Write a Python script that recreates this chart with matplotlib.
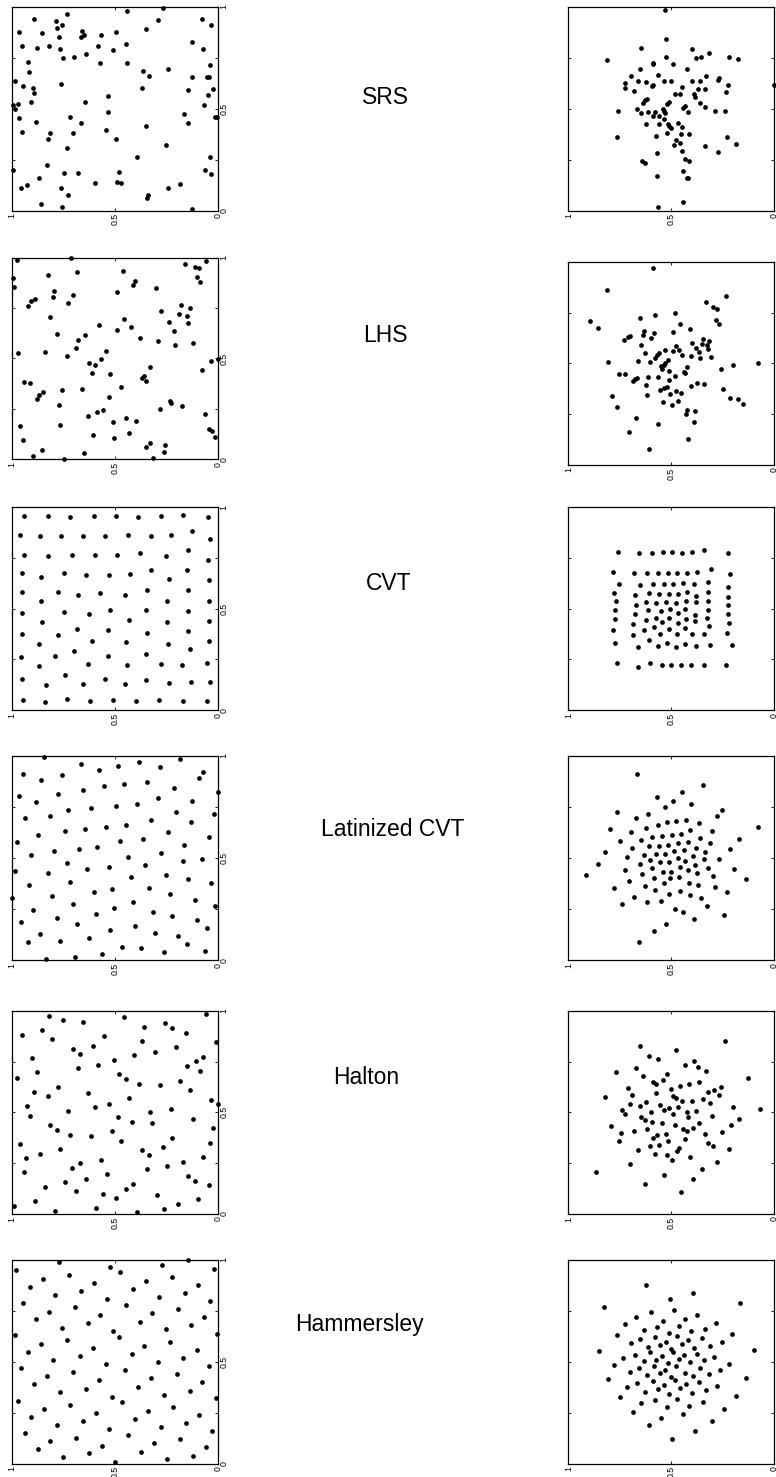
import matplotlib
matplotlib.use("Agg")
import matplotlib.pyplot as plt

plt.rcParams['font.family'] = ['Liberation Sans', 'DejaVu Sans']

# ---------------- data (axes in [0,1]) ----------------
labels = ["SRS", "LHS", "CVT", "Latinized CVT", "Halton", "Hammersley"]

srs_uniform = [(0.27,0.993),(0.73,0.962),(0.44,0.979),(0.89,0.941),(0.787,0.931),(0.29,0.935),(0.081,0.94),(0.755,0.908),(0.779,0.894),(0.034,0.91),(0.352,0.891),(0.966,0.877),(0.855,0.873),(0.661,0.882),(0.497,0.874),(0.568,0.863),(0.652,0.861),(0.666,0.85),(0.769,0.853),(0.127,0.825),(0.448,0.819),(0.952,0.809),(0.821,0.806),(0.581,0.809),(0.877,0.797),(0.766,0.792),(0.51,0.786),(0.076,0.794),(0.639,0.766),(0.753,0.75),(0.698,0.755),(0.921,0.727),(0.573,0.722),(0.442,0.724),(0.042,0.716),(0.242,0.693),(0.365,0.686),(0.918,0.681),(0.335,0.658),(0.129,0.654),(0.055,0.654),(0.047,0.655),(0.982,0.637),(0.947,0.609),(0.76,0.619),(0.895,0.601),(0.371,0.6),(0.027,0.595),(0.145,0.59),(0.892,0.577),(0.05,0.569),(0.535,0.564),(0.905,0.531),(0.644,0.534),(0.971,0.521),(0.992,0.516),(0.982,0.5),(0.069,0.518),(0.535,0.482),(0.165,0.472),(0.965,0.456),(0.716,0.458),(0.015,0.458),(0.008,0.461),(0.882,0.436),(0.147,0.431),(0.666,0.43),(0.352,0.417),(0.544,0.394),(0.95,0.387),(0.813,0.382),(0.702,0.381),(0.823,0.35),(0.495,0.351),(0.253,0.32),(0.731,0.309),(0.395,0.263),(0.04,0.265),(0.827,0.224),(0.994,0.198),(0.066,0.198),(0.747,0.183),(0.677,0.186),(0.479,0.19),(0.034,0.18),(0.869,0.162),(0.597,0.137),(0.49,0.139),(0.473,0.136),(0.184,0.131),(0.926,0.124),(0.953,0.113),(0.763,0.113),(0.244,0.109),(0.727,0.075),(0.34,0.078),(0.344,0.06),(0.86,0.031),(0.755,0.02),(0.127,0.007)]

srs_normal = [(0.528,0.987),(0.525,0.846),(0.647,0.802),(0.400,0.797),(0.318,0.777),(0.523,0.756),(0.381,0.749),(0.355,0.756),(0.217,0.754),(0.177,0.746),(0.810,0.739),(0.590,0.728),(0.590,0.722),(0.489,0.720),(0.652,0.697),(0.421,0.697),(0.694,0.661),(0.564,0.666),(0.331,0.661),(0.267,0.651),(0.272,0.643),(0.660,0.636),(0.622,0.631),(0.533,0.639),(0.502,0.639),(0.397,0.636),(0.361,0.636),(0.723,0.626),(0.723,0.605),(0.587,0.616),(0.595,0.611),(0.447,0.607),(0.224,0.620),(0.000,0.620),(0.679,0.590),(0.368,0.600),(0.334,0.597),(0.232,0.584),(0.481,0.572),(0.455,0.572),(0.389,0.572),(0.384,0.561),(0.616,0.551),(0.626,0.544),(0.635,0.531),(0.509,0.533),(0.522,0.525),(0.361,0.530),(0.434,0.515),(0.444,0.507),(0.334,0.511),(0.668,0.498),(0.541,0.498),(0.759,0.492),(0.648,0.482),(0.613,0.487),(0.579,0.485),(0.533,0.489),(0.528,0.482),(0.418,0.484),(0.285,0.489),(0.238,0.490),(0.590,0.464),(0.561,0.466),(0.533,0.451),(0.622,0.425),(0.559,0.426),(0.517,0.428),(0.465,0.433),(0.509,0.416),(0.501,0.408),(0.447,0.410),(0.765,0.364),(0.575,0.367),(0.520,0.380),(0.451,0.375),(0.412,0.375),(0.229,0.364),(0.478,0.346),(0.455,0.334),(0.485,0.321),(0.334,0.320),(0.183,0.326),(0.449,0.295),(0.569,0.282),(0.274,0.287),(0.431,0.256),(0.412,0.246),(0.640,0.243),(0.629,0.236),(0.441,0.195),(0.571,0.170),(0.425,0.159),(0.418,0.162),(0.441,0.043),(0.566,0.018)]

lhs_uniform = [(0.713,1.0),(0.973,0.988),(0.058,0.982),(0.161,0.969),(0.113,0.955),(0.092,0.947),(0.463,0.934),(0.685,0.927),(0.823,0.912),(0.994,0.899),(0.102,0.902),(0.087,0.879),(0.402,0.884),(0.411,0.864),(0.987,0.853),(0.300,0.850),(0.795,0.836),(0.490,0.830),(0.703,0.815),(0.802,0.803),(0.885,0.795),(0.906,0.783),(0.919,0.759),(0.726,0.775),(0.179,0.765),(0.135,0.749),(0.276,0.736),(0.192,0.721),(0.152,0.712),(0.816,0.707),(0.456,0.694),(0.240,0.683),(0.148,0.674),(0.577,0.664),(0.421,0.658),(0.489,0.643),(0.213,0.635),(0.782,0.620),(0.645,0.617),(0.677,0.593),(0.381,0.600),(0.290,0.587),(0.124,0.577),(0.208,0.565),(0.690,0.554),(0.840,0.534),(0.545,0.539),(0.969,0.527),(0.734,0.512),(0.568,0.498),(0.003,0.499),(0.035,0.486),(0.627,0.476),(0.597,0.468),(0.332,0.456),(0.610,0.428),(0.523,0.421),(0.077,0.441),(0.361,0.413),(0.369,0.402),(0.352,0.388),(0.939,0.382),(0.913,0.379),(0.469,0.360),(0.756,0.342),(0.658,0.349),(0.848,0.334),(0.868,0.321),(0.879,0.299),(0.531,0.309),(0.234,0.289),(0.231,0.279),(0.771,0.268),(0.284,0.250),(0.558,0.243),(0.589,0.233),(0.174,0.264),(0.066,0.223),(0.629,0.213),(0.511,0.187),(0.448,0.205),(0.397,0.190),(0.960,0.164),(0.766,0.170),(0.044,0.150),(0.029,0.142),(0.608,0.119),(0.505,0.104),(0.432,0.129),(0.018,0.112),(0.945,0.096),(0.852,0.048),(0.650,0.031),(0.348,0.061),(0.329,0.079),(0.260,0.073),(0.263,0.036),(0.316,0.007),(0.897,0.015),(0.745,0.0)]

lhs_normal = [(0.588,0.969),(0.810,0.861),(0.235,0.833),(0.332,0.802),(0.295,0.779),(0.277,0.766),(0.481,0.746),(0.577,0.736),(0.652,0.723),(0.893,0.710),(0.284,0.715),(0.269,0.693),(0.857,0.674),(0.457,0.695),(0.407,0.669),(0.634,0.661),(0.493,0.656),(0.583,0.648),(0.637,0.639),(0.702,0.634),(0.596,0.623),(0.712,0.628),(0.729,0.613),(0.344,0.618),(0.314,0.608),(0.400,0.602),(0.350,0.593),(0.647,0.589),(0.324,0.589),(0.379,0.577),(0.321,0.572),(0.478,0.584),(0.462,0.564),(0.528,0.567),(0.493,0.559),(0.365,0.556),(0.627,0.551),(0.446,0.541),(0.561,0.549),(0.571,0.541),(0.579,0.528),(0.405,0.536),(0.361,0.526),(0.305,0.531),(0.661,0.513),(0.601,0.505),(0.514,0.516),(0.806,0.508),(0.198,0.493),(0.078,0.500),(0.528,0.500),(0.536,0.490),(0.549,0.487),(0.425,0.480),(0.259,0.474),(0.543,0.470),(0.509,0.464),(0.439,0.459),(0.432,0.452),(0.752,0.449),(0.724,0.448),(0.483,0.439),(0.665,0.426),(0.674,0.421),(0.687,0.413),(0.613,0.431),(0.564,0.434),(0.509,0.416),(0.373,0.405),(0.340,0.397),(0.402,0.387),(0.620,0.395),(0.522,0.382),(0.533,0.378),(0.553,0.369),(0.475,0.364),(0.451,0.354),(0.246,0.375),(0.505,0.351),(0.619,0.343),(0.786,0.338),(0.212,0.330),(0.173,0.323),(0.149,0.302),(0.541,0.308),(0.467,0.315),(0.498,0.293),(0.763,0.284),(0.421,0.272),(0.386,0.264),(0.429,0.249),(0.669,0.230),(0.391,0.210),(0.562,0.200),(0.705,0.161),(0.417,0.126),(0.606,0.077)]

cvt_uniform = [(0.940,0.954),(0.826,0.954),(0.716,0.951),(0.603,0.954),(0.494,0.954),(0.387,0.952),(0.279,0.954),(0.171,0.959),(0.050,0.951),
    (0.958,0.861),(0.865,0.856),(0.763,0.856),(0.653,0.857),(0.547,0.857),(0.439,0.861),(0.327,0.856),(0.227,0.862),(0.126,0.880),(0.042,0.844),
    (0.940,0.766),(0.824,0.757),(0.706,0.764),(0.595,0.762),(0.489,0.762),(0.379,0.772),(0.253,0.761),(0.148,0.787),(0.048,0.741),
    (0.952,0.677),(0.856,0.654),(0.747,0.674),(0.640,0.667),(0.531,0.666),(0.427,0.670),(0.326,0.690),(0.239,0.646),(0.150,0.692),(0.047,0.639),
    (0.950,0.580),(0.858,0.536),(0.774,0.582),(0.677,0.567),(0.573,0.577),(0.452,0.566),(0.345,0.593),(0.247,0.539),(0.148,0.590),(0.047,0.538),
    (0.952,0.480),(0.855,0.434),(0.748,0.482),(0.624,0.472),(0.523,0.492),(0.434,0.444),(0.348,0.492),(0.248,0.434),(0.148,0.490),(0.047,0.441),
    (0.952,0.375),(0.869,0.326),(0.777,0.370),(0.684,0.398),(0.610,0.339),(0.534,0.393),(0.445,0.334),(0.344,0.382),(0.245,0.325),(0.148,0.392),(0.137,0.302),(0.044,0.341),
    (0.956,0.264),(0.866,0.216),(0.789,0.266),(0.700,0.292),(0.629,0.226),(0.532,0.269),(0.442,0.223),(0.352,0.277),(0.277,0.226),(0.177,0.221),(0.053,0.234),
    (0.950,0.154),(0.835,0.126),(0.744,0.175),(0.655,0.130),(0.550,0.156),(0.453,0.128),(0.352,0.151),(0.237,0.133),(0.132,0.139),(0.039,0.141),
    (0.945,0.052),(0.840,0.041),(0.732,0.054),(0.619,0.046),(0.511,0.049),(0.397,0.046),(0.289,0.049),(0.173,0.046),(0.056,0.046)]

cvt_normal = [(0.757,0.779),(0.655,0.774),(0.592,0.775),(0.541,0.777),(0.494,0.777),(0.447,0.775),(0.399,0.777),(0.339,0.787),(0.225,0.775),
    (0.784,0.680),(0.679,0.675),(0.616,0.675),(0.564,0.677),(0.517,0.677),(0.470,0.677),(0.421,0.675),(0.373,0.680),(0.305,0.695),(0.212,0.669),
    (0.754,0.623),(0.653,0.616),(0.587,0.621),(0.536,0.620),(0.489,0.623),(0.444,0.625),(0.387,0.621),(0.321,0.633),(0.222,0.607),
    (0.776,0.577),(0.676,0.567),(0.608,0.575),(0.558,0.574),(0.511,0.574),(0.465,0.574),(0.423,0.582),(0.379,0.562),(0.321,0.584),(0.222,0.559),
    (0.770,0.536),(0.673,0.518),(0.622,0.534),(0.572,0.530),(0.527,0.534),(0.476,0.528),(0.429,0.539),(0.381,0.534),(0.321,0.538),(0.222,0.518),
    (0.773,0.492),(0.674,0.474),(0.611,0.492),(0.549,0.489),(0.506,0.497),(0.468,0.479),(0.433,0.498),(0.382,0.470),(0.323,0.493),(0.222,0.475),
    (0.775,0.448),(0.684,0.426),(0.624,0.444),(0.575,0.456),(0.545,0.433),(0.509,0.454),(0.468,0.430),(0.428,0.449),(0.382,0.439),(0.324,0.452),(0.316,0.413),(0.217,0.431),
    (0.781,0.397),(0.684,0.369),(0.630,0.395),(0.583,0.408),(0.553,0.375),(0.511,0.398),(0.472,0.374),(0.433,0.403),(0.397,0.374),(0.342,0.374),(0.229,0.380),
    (0.771,0.330),(0.660,0.311),(0.606,0.346),(0.562,0.315),(0.519,0.331),(0.476,0.313),(0.433,0.328),(0.379,0.315),(0.310,0.320),(0.206,0.323),
    (0.765,0.231),(0.663,0.215),(0.601,0.233),(0.546,0.221),(0.501,0.223),(0.452,0.223),(0.404,0.225),(0.340,0.221),(0.235,0.221)]

lcvt_uniform = [(0.845,0.995),(0.666,0.963),(0.485,0.953),(0.384,0.972),(0.282,0.946),(0.184,0.984),(0.945,0.914),(0.756,0.905),(0.576,0.933),(0.073,0.923),(0.092,0.894),(0.856,0.884),(0.553,0.855),(0.455,0.863),(0.345,0.874),(0.216,0.843),(0.966,0.804),(0.774,0.816),(0.653,0.834),(0.292,0.793),(0.003,0.824),(0.884,0.773),(0.495,0.754),(0.395,0.765),(0.126,0.781),(0.616,0.746),(0.726,0.734),(0.203,0.724),(0.023,0.716),(0.935,0.695),(0.815,0.705),(0.324,0.685),(0.445,0.664),(0.545,0.654),(0.645,0.643),(0.744,0.635),(0.134,0.675),(0.245,0.626),(0.874,0.613),(0.044,0.605),(0.974,0.577),(0.365,0.595),(0.474,0.584),(0.165,0.564),(0.585,0.555),(0.676,0.545),(0.795,0.535),(0.276,0.524),(0.905,0.515),(0.435,0.506),(0.081,0.496),(0.173,0.486),(0.531,0.455),(0.734,0.475),(0.355,0.465),(0.634,0.445),(0.985,0.436),(0.824,0.426),(0.253,0.418),(0.424,0.406),(0.716,0.385),(0.145,0.398),(0.035,0.377),(0.918,0.367),(0.334,0.356),(0.515,0.347),(0.603,0.334),(0.232,0.325),(0.806,0.316),(0.997,0.307),(0.415,0.287),(0.705,0.277),(0.115,0.295),(0.015,0.268),(0.503,0.258),(0.895,0.245),(0.315,0.237),(0.594,0.227),(0.782,0.207),(0.224,0.217),(0.955,0.186),(0.103,0.197),(0.682,0.176),(0.403,0.168),(0.053,0.157),(0.526,0.147),(0.305,0.135),(0.865,0.127),(0.194,0.119),(0.923,0.088),(0.765,0.096),(0.626,0.108),(0.153,0.080),(0.465,0.067),(0.374,0.059),(0.063,0.047),(0.565,0.029),(0.265,0.039),(0.694,0.018),(0.832,0.008)]

lcvt_normal = [(0.666,0.914),(0.347,0.856),(0.447,0.822),(0.567,0.798),(0.489,0.780),(0.528,0.749),(0.402,0.763),(0.762,0.728),(0.254,0.737),(0.277,0.708),(0.611,0.718),(0.673,0.698),(0.076,0.654),(0.796,0.641),(0.697,0.626),(0.621,0.648),(0.564,0.661),(0.519,0.675),(0.478,0.682),(0.429,0.688),(0.365,0.670),(0.303,0.631),(0.749,0.586),(0.647,0.589),(0.595,0.604),(0.545,0.608),(0.494,0.613),(0.451,0.620),(0.407,0.636),(0.358,0.597),(0.311,0.576),(0.170,0.594),(0.820,0.532),(0.689,0.548),(0.608,0.558),(0.559,0.561),(0.515,0.566),(0.468,0.576),(0.420,0.581),(0.381,0.551),(0.334,0.529),(0.212,0.545),(0.715,0.506),(0.634,0.516),(0.574,0.519),(0.528,0.522),(0.486,0.535),(0.439,0.540),(0.395,0.509),(0.342,0.494),(0.266,0.498),(0.854,0.471),(0.653,0.470),(0.603,0.493),(0.553,0.480),(0.509,0.483),(0.467,0.502),(0.433,0.486),(0.386,0.465),(0.319,0.454),(0.194,0.449),(0.914,0.416),(0.724,0.444),(0.640,0.421),(0.592,0.452),(0.541,0.431),(0.501,0.434),(0.457,0.457),(0.420,0.440),(0.376,0.427),(0.297,0.411),(0.136,0.398),(0.705,0.387),(0.585,0.401),(0.536,0.377),(0.504,0.401),(0.462,0.406),(0.415,0.380),(0.368,0.369),(0.778,0.354),(0.629,0.365),(0.577,0.346),(0.511,0.326),(0.455,0.339),(0.410,0.318),(0.355,0.303),(0.287,0.359),(0.229,0.333),(0.681,0.312),(0.737,0.274),(0.616,0.284),(0.548,0.292),(0.481,0.250),(0.441,0.235),(0.391,0.202),(0.324,0.264),(0.245,0.222),(0.525,0.179),(0.582,0.145),(0.658,0.088)]

halton_uniform = [(0.819,0.975),(0.753,0.952),(0.653,0.944),(0.456,0.967),(0.060,0.984),(0.952,0.882),(0.852,0.905),(0.358,0.921),(0.260,0.938),(0.226,0.913),(0.158,0.892),(0.803,0.859),(0.555,0.874),(0.371,0.852),(0.608,0.828),(0.703,0.811),(0.206,0.820),(0.306,0.797),(0.669,0.789),(0.010,0.844),(0.903,0.766),(0.408,0.780),(0.076,0.772),(0.506,0.757),(0.110,0.751),(0.581,0.734),(0.150,0.726),(0.677,0.718),(0.876,0.697),(0.479,0.689),(0.448,0.664),(0.087,0.703),(0.976,0.670),(0.184,0.656),(0.382,0.641),(0.281,0.633),(0.776,0.625),(0.893,0.600),(0.135,0.610),(0.629,0.593),(0.825,0.579),(0.431,0.569),(0.034,0.562),(0.529,0.539),(0.924,0.531),(0.002,0.539),(0.595,0.525),(0.231,0.515),(0.331,0.500),(0.727,0.507),(0.913,0.484),(0.484,0.477),(0.123,0.469),(0.416,0.454),(0.815,0.439),(0.319,0.446),(0.781,0.415),(0.516,0.407),(0.024,0.421),(0.716,0.390),(0.618,0.384),(0.223,0.375),(0.961,0.344),(0.469,0.359),(0.040,0.351),(0.765,0.320),(0.369,0.313),(0.269,0.328),(0.863,0.297),(0.335,0.289),(0.929,0.274),(0.569,0.266),(0.073,0.280),(0.668,0.251),(0.173,0.257),(0.706,0.226),(0.344,0.220),(0.247,0.234),(0.939,0.205),(0.541,0.197),(0.147,0.188),(0.642,0.172),(0.113,0.164),(0.740,0.157),(0.839,0.133),(0.411,0.149),(0.445,0.124),(0.047,0.141),(0.690,0.111),(0.560,0.100),(0.297,0.093),(0.494,0.079),(0.889,0.066),(0.097,0.072),(0.197,0.048),(0.987,0.039),(0.789,0.016),(0.592,0.031),(0.263,0.025),(0.395,0.008)]

halton_normal = [(0.240,0.852),(0.650,0.826),(0.478,0.807),(0.609,0.775),(0.562,0.764),(0.389,0.754),(0.434,0.733),(0.371,0.725),(0.671,0.716),(0.331,0.703),(0.770,0.697),(0.520,0.689),(0.125,0.667),(0.637,0.677),(0.540,0.657),(0.587,0.648),(0.575,0.639),(0.412,0.638),(0.363,0.651),(0.712,0.620),(0.499,0.616),(0.457,0.628),(0.293,0.611),(0.259,0.625),(0.269,0.587),(0.323,0.598),(0.574,0.593),(0.690,0.584),(0.823,0.574),(0.489,0.579),(0.476,0.570),(0.345,0.566),(0.446,0.557),(0.622,0.551),(0.399,0.554),(0.313,0.544),(0.702,0.541),(0.553,0.538),(0.653,0.531),(0.467,0.528),(0.201,0.526),(0.070,0.516),(0.737,0.511),(0.509,0.520),(0.536,0.510),(0.423,0.502),(0.378,0.505),(0.596,0.500),(0.723,0.492),(0.493,0.490),(0.301,0.484),(0.645,0.475),(0.627,0.464),(0.418,0.475),(0.546,0.449),(0.483,0.439),(0.366,0.446),(0.592,0.452),(0.793,0.434),(0.207,0.436),(0.618,0.420),(0.442,0.416),(0.394,0.423),(0.170,0.466),(0.679,0.410),(0.742,0.400),(0.524,0.395),(0.254,0.403),(0.425,0.408),(0.569,0.387),(0.587,0.374),(0.337,0.392),(0.431,0.369),(0.752,0.361),(0.514,0.357),(0.558,0.341),(0.321,0.351),(0.295,0.336),(0.605,0.333),(0.661,0.313),(0.462,0.326),(0.472,0.308),(0.220,0.320),(0.579,0.297),(0.522,0.289),(0.407,0.279),(0.494,0.264),(0.279,0.256),(0.700,0.246),(0.352,0.221),(0.867,0.208),(0.535,0.192),(0.392,0.170),(0.629,0.146),(0.452,0.108)]

hammersley_uniform = [(0.145,0.998),(0.773,0.988),(0.271,0.977),(0.524,0.967),(0.977,0.949),(0.021,0.957),(0.474,0.939),(0.724,0.928),(0.850,0.908),(0.226,0.918),(0.352,0.899),(0.600,0.887),(0.098,0.879),(0.913,0.867),(0.411,0.859),(0.665,0.849),(0.161,0.836),(0.789,0.827),(0.285,0.817),(0.537,0.809),(0.039,0.799),(0.947,0.789),(0.445,0.777),(0.695,0.768),(0.194,0.759),(0.819,0.746),(0.319,0.738),(0.571,0.728),(0.069,0.720),(0.884,0.709),(0.381,0.697),(0.632,0.689),(0.131,0.679),(0.758,0.668),(0.255,0.660),(0.508,0.650),(0.005,0.638),(0.984,0.630),(0.482,0.620),(0.734,0.607),(0.232,0.599),(0.860,0.589),(0.358,0.579),(0.608,0.570),(0.105,0.558),(0.923,0.548),(0.419,0.538),(0.671,0.529),(0.169,0.519),(0.798,0.507),(0.294,0.498),(0.545,0.488),(0.045,0.480),(0.953,0.468),(0.452,0.458),(0.703,0.448),(0.202,0.439),(0.827,0.429),(0.326,0.419),(0.577,0.409),(0.077,0.399),(0.890,0.390),(0.389,0.378),(0.640,0.368),(0.137,0.358),(0.765,0.350),(0.263,0.339),(0.515,0.329),(0.013,0.321),(0.968,0.309),(0.468,0.301),(0.719,0.288),(0.218,0.280),(0.844,0.268),(0.342,0.260),(0.594,0.249),(0.092,0.239),(0.906,0.229),(0.405,0.219),(0.656,0.209),(0.155,0.200),(0.781,0.190),(0.279,0.180),(0.531,0.170),(0.029,0.160),(0.937,0.149),(0.435,0.139),(0.687,0.128),(0.187,0.119),(0.813,0.110),(0.311,0.100),(0.561,0.088),(0.061,0.080),(0.874,0.070),(0.373,0.059),(0.624,0.051),(0.124,0.039),(0.750,0.031),(0.248,0.021),(0.498,0.010)]

hammersley_normal = [(0.622,0.877),(0.395,0.836),(0.504,0.808),(0.167,0.787),(0.827,0.771),(0.486,0.756),(0.596,0.743),(0.373,0.730),(0.669,0.722),(0.433,0.712),(0.723,0.684),(0.538,0.700),(0.284,0.692),(0.460,0.676),(0.334,0.663),(0.569,0.671),(0.630,0.655),(0.402,0.651),(0.203,0.638),(0.762,0.633),(0.511,0.643),(0.473,0.627),(0.650,0.612),(0.580,0.620),(0.417,0.606),(0.352,0.615),(0.251,0.596),(0.697,0.591),(0.527,0.599),(0.614,0.573),(0.446,0.586),(0.387,0.568),(0.311,0.578),(0.853,0.552),(0.099,0.556),(0.554,0.581),(0.502,0.561),(0.491,0.550),(0.601,0.547),(0.676,0.535),(0.438,0.534),(0.376,0.540),(0.733,0.520),(0.543,0.527),(0.292,0.524),(0.462,0.514),(0.572,0.511),(0.634,0.502),(0.339,0.507),(0.407,0.499),(0.776,0.486),(0.515,0.494),(0.217,0.491),(0.585,0.478),(0.475,0.481),(0.655,0.468),(0.360,0.471),(0.261,0.458),(0.528,0.460),(0.702,0.452),(0.434,0.447),(0.616,0.435),(0.554,0.445),(0.502,0.424),(0.481,0.412),(0.395,0.430),(0.318,0.439),(0.806,0.416),(0.138,0.421),(0.665,0.398),(0.366,0.401),(0.588,0.406),(0.429,0.393),(0.536,0.386),(0.276,0.380),(0.716,0.375),(0.455,0.370),(0.562,0.365),(0.626,0.354),(0.329,0.360),(0.397,0.349),(0.750,0.326),(0.511,0.340),(0.186,0.332),(0.472,0.319),(0.577,0.311),(0.347,0.304),(0.645,0.296),(0.415,0.285),(0.522,0.277),(0.241,0.267),(0.687,0.255),(0.444,0.242),(0.549,0.226),(0.608,0.188),(0.303,0.209),(0.384,0.162),(0.496,0.121)]

x_ticks = [1.0, 0.5, 0.0]
x_ticklabels = ["1", "0.5", "0"]
y_ticks = [0.0, 0.25, 0.5, 0.75, 1.0]
y_ticklabels = ["0", "", "0.5", "", "1"]

panels = [
    (srs_uniform, srs_normal),
    (lhs_uniform, lhs_normal),
    (cvt_uniform, cvt_normal),
    (lcvt_uniform, lcvt_normal),
    (halton_uniform, halton_normal),
    (hammersley_uniform, hammersley_normal),
]

# ---------------- layout (pixel geometry of the original) ----------------
W, H = 776, 1477
fig = plt.figure(figsize=(W / 100, H / 100), dpi=100)

left_x = (11.7, 218.3)
right_x = (568.3, 774.0)
left_rows = [(6.7, 210.7), (257.7, 459.3), (507, 710.3), (756, 960.3), (1010.7, 1214), (1260, 1463.7)]
right_rows = [(7.3, 210.7), (261.7, 465), (507, 710.3), (756, 960.3), (1010.7, 1214), (1260, 1463.7)]
label_pos = [(385, 97), (385, 335), (389, 583), (393, 830), (366, 1078), (359, 1325)]


def make_ax(xr, yr):
    x0, x1 = xr
    y0, y1 = yr
    return fig.add_axes([x0 / W, 1 - y1 / H, (x1 - x0) / W, (y1 - y0) / H])


def style(ax, right_labels=True):
    ax.set_xlim(1, 0)
    ax.set_ylim(0, 1)
    ax.set_xticks(x_ticks)
    ax.set_xticklabels(x_ticklabels)
    ax.set_yticks(y_ticks)
    ax.set_yticklabels(y_ticklabels)
    ax.tick_params(axis='both', direction='in', length=2.5, width=0.6,
                   labelsize=6.3, labelrotation=90)
    ax.tick_params(axis='x', top=True, bottom=True, pad=1.8)
    ax.tick_params(axis='y', left=True, right=True, labelleft=False,
                   labelright=right_labels, pad=0.8)
    for lab in ax.get_yticklabels():
        lab.set_verticalalignment('center')
    for s in ax.spines.values():
        s.set_linewidth(0.9)
        s.set_color('black')


for i, (uni, nor) in enumerate(panels):
    axl = make_ax(left_x, left_rows[i])
    axl.plot([p[0] for p in uni], [p[1] for p in uni], 'o', color='black',
             markersize=3.4, markeredgewidth=0, clip_on=False)
    style(axl)

    axr = make_ax(right_x, right_rows[i])
    axr.plot([p[0] for p in nor], [p[1] for p in nor], 'o', color='black',
             markersize=3.4, markeredgewidth=0, clip_on=False)
    # the right-hand labels of these panels fall outside the picture
    style(axr, right_labels=False)

    lx, ly = label_pos[i]
    fig.text(lx / W, 1 - ly / H, labels[i], ha='center', va='center', fontsize=16.5)

fig.savefig("out.png", dpi=100, facecolor='white')
